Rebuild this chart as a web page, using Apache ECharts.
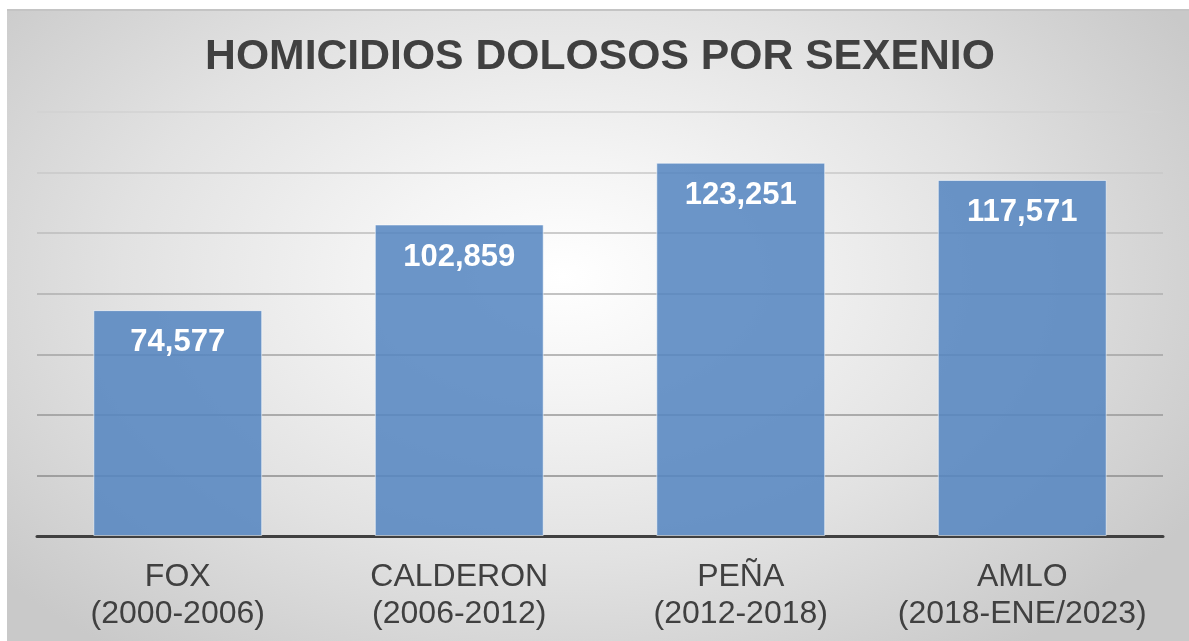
<!DOCTYPE html>
<html>
<head>
<meta charset="utf-8">
<script src="https://cdn.jsdelivr.net/npm/echarts@6/dist/echarts.min.js"></script>
<style>
  html, body { margin: 0; padding: 0; background: #ffffff; }
  #bg { position: absolute; left: 7px; top: 9px; width: 1182px; height: 632px;
        border-top: 2px solid #c4c4c4; box-sizing: border-box;
        background: radial-gradient(ellipse 62% 75% at 47% 42%, #ffffff 0%, #f4f4f4 25%, #e2e2e2 60%, #c9c9c9 100%); }
  #chart { position: absolute; left: 0; top: 0; width: 1189px; height: 641px; }
</style>
</head>
<body>
<div id="bg"></div>
<div id="chart"></div>
<script>
const titleText = 'HOMICIDIOS DOLOSOS POR SEXENIO';
const categories = ['FOX\n(2000-2006)', 'CALDERON\n(2006-2012)', 'PEÑA\n(2012-2018)', 'AMLO\n(2018-ENE/2023)'];
const values = [74577, 102859, 123251, 117571];
const yMin = 0;
const yMax = 140000;
const yStep = 20000;

const chart = echarts.init(document.getElementById('chart'), null, { renderer: 'canvas' });
chart.setOption({
  backgroundColor: 'transparent',
  animation: false,
  title: {
    text: titleText,
    left: 595,
    textAlign: 'center',
    top: 31,
    textStyle: { fontFamily: 'Liberation Sans, Arial, sans-serif', fontSize: 42.7, fontWeight: 'bold', color: '#404040' }
  },
  grid: { left: 37, right: 26, top: 112, bottom: 105, containLabel: false },
  xAxis: {
    type: 'category',
    data: categories,
    axisLine: { show: true, lineStyle: { color: '#404040', width: 3 } },
    axisTick: { show: false },
    axisLabel: {
      fontFamily: 'Liberation Sans, Arial, sans-serif',
      fontSize: 32, lineHeight: 37, color: '#404040', margin: 23, interval: 0
    }
  },
  yAxis: {
    type: 'value',
    min: yMin, max: yMax, interval: yStep,
    axisLine: { show: false },
    axisTick: { show: false },
    axisLabel: { show: false },
    splitLine: {
      show: true,
      lineStyle: {
        width: 1.5,
        color: ['#8a8a8a', '#8c8c8c', '#979797', '#a3a3a3', '#afafaf', '#bcbcbc', '#c8c8c8', '#d2d2d2']
      }
    }
  },
  series: [{
    type: 'bar',
    data: values,
    barWidth: '60%',
    itemStyle: { color: 'rgba(84,133,192,0.86)', borderColor: 'rgba(255,255,255,0.55)', borderWidth: 1 },
    label: {
      show: true,
      position: 'insideTop',
      distance: 17,
      formatter: p => p.value.toLocaleString('en-US'),
      fontFamily: 'Liberation Sans, Arial, sans-serif',
      fontSize: 31, fontWeight: 'bold', color: '#ffffff'
    }
  }]
});
</script>
</body>
</html>
